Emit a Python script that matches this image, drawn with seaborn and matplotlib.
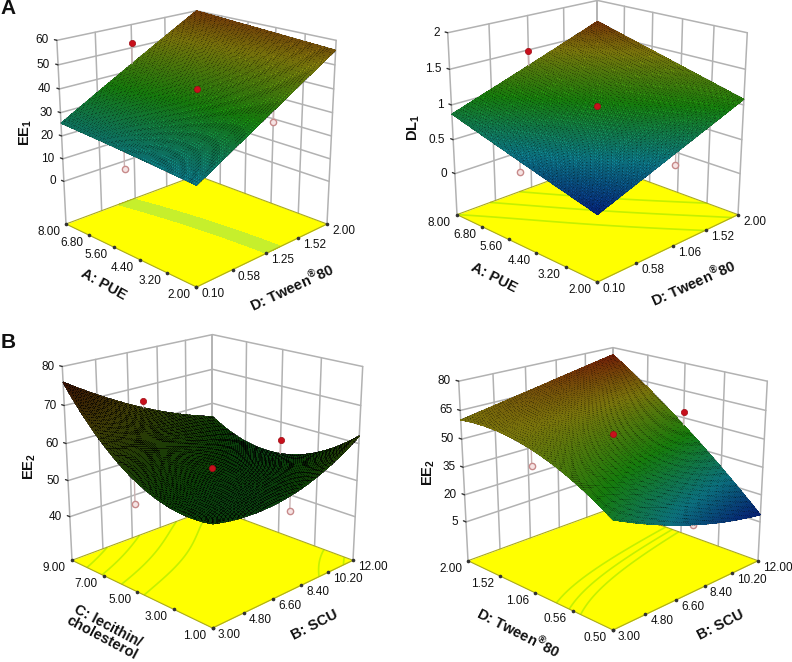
"""Four response surface panels (EE1, DL1, EE2, EE2)."""
import numpy as np
import matplotlib
matplotlib.use("Agg")
import matplotlib.pyplot as plt
import matplotlib.colors as mcolors
from mpl_toolkits.mplot3d import proj3d
import seaborn as sns

# heights: rows = left axis low..high, columns = right axis low..high.
# The mesh between them is the quadratic response surface through these nine values.
ee1_heights = [[21, 38.5, 56], [23.5, 40, 58], [25.5, 43, 60]]
dl1_heights = [[0.28, 0.68, 1.08], [0.57, 0.99, 1.38], [0.87, 1.27, 1.68]]
ee2c_heights = [[53.5, 53, 62], [57, 53.5, 51], [76, 64, 56]]
ee2d_heights = [[37, 19, 9], [57, 52, 46], [60, 68, 76]]

pue_ticks = ["2.00", "3.20", "4.40", "5.60", "6.80", "8.00"]
tween_ticks = ["0.10", "0.58", "1.25", "1.52", "2.00"]
tween_ticks2 = ["0.10", "0.58", "1.06", "1.52", "2.00"]
tween_ticks3 = ["0.50", "0.56", "1.06", "1.52", "2.00"]
scu_ticks = ["3.00", "4.80", "6.60", "8.40", "10.20", "12.00"]
lec_ticks = ["1.00", "3.00", "5.00", "7.00", "9.00"]

ee1_z = [0, 10, 20, 30, 40, 50, 60]
dl1_z = [0, 0.5, 1, 1.5, 2]
ee2c_z = [40, 50, 60, 70, 80]
ee2d_z = [5, 20, 35, 50, 65, 80]

# design points: (right axis position, left axis position, response)
ee1_red = [(0.5, 1, 52), (0.5, 0.5, 40)]
ee1_open = [(0, 0.5, 16.5), (1, 0.4, 18.5)]
dl1_red = [(0.5, 1, 1.49), (0.5, 0.5, 0.99)]
dl1_open = [(0, 0.5, 0.43), (1, 0.42, -0.2)]
ee2c_red = [(0.5, 1, 66), (1, 0.5, 55), (0.5, 0.5, 53.5)]
ee2c_open = [(0, 0.5, 51), (0.5, 0, 49)]
ee2d_red = [(1, 0.5, 53), (0.5, 0.5, 52.5)]
ee2d_open = [(0, 0.5, 49), (0.5, 0, 19)]

sns.set_theme(style="white")
plt.rcParams.update({
    "font.family": ["Liberation Sans", "DejaVu Sans"],
    "mathtext.fontset": "custom",
    "mathtext.rm": "Liberation Sans",
    "mathtext.bf": "Liberation Sans:bold",
})
CMAP = sns.blend_palette(["#05158c", "#0f8c9c", "#1c9a10", "#97920f", "#8a1208"], as_cmap=True)
GRID = "#b2b2b2"
W, H = 792, 662
TWEEN = r"D: Tween$\mathbf{^{®}}$80"

PANELS = [
    dict(heights=ee1_heights, left=pue_ticks, right=tween_ticks, zt=ee1_z, floor=-19.4,
         vmin=6, vmax=66, box=1.02, L=(66, 226), R=(327, 225), F=(197, 287),
         red=ee1_red, open=ee1_open, band=[38.5, 42.5], lines=None, mesh=70, lw=0.3, ealpha=0.22,
         xl="A: PUE", xlp=(104, 285), xr=TWEEN, xrp=(292, 287), zl=r"$\mathbf{EE_{1}}$", zlp=(26, 132), rl=-29, rr=25),
    dict(heights=dl1_heights, left=pue_ticks, right=tween_ticks2, zt=dl1_z, floor=-0.62,
         vmin=0.2, vmax=1.8, box=0.94, L=(457, 218), R=(738, 217), F=(597, 282),
         red=dl1_red, open=dl1_open, band=None, lines=[0.87, 1.04, 1.2], mesh=75, lw=0.3, ealpha=0.2,
         xl="A: PUE", xlp=(494, 278), xr=TWEEN, xrp=(693, 283), zl=r"$\mathbf{DL_{1}}$", zlp=(414, 127), rl=-27, rr=24),
    dict(heights=ee2c_heights, left=lec_ticks, right=scu_ticks, zt=ee2c_z, floor=27.6,
         vmin=29, vmax=78, box=1.0, L=(72, 563), R=(353, 563), F=(213, 628),
         red=ee2c_red, open=ee2c_open, band=None, lines=[56, 60, 65, 70], mesh=75, lw=0.4, ealpha=0.6,
         xl="C: lecithin/\ncholesterol", xlp=(105, 632), xr="B: SCU", xrp=(315, 625), zl=r"$\mathbf{EE_{2}}$", zlp=(30, 467), rl=-28, rr=27),
    dict(heights=ee2d_heights, left=tween_ticks3, right=scu_ticks, zt=ee2d_z, floor=-17,
         vmin=6, vmax=78, box=0.9, L=(468, 567), R=(758, 567), F=(613, 630),
         red=ee2d_red, open=ee2d_open, band=None, lines=[47, 50, 53], mesh=75, lw=0.3, ealpha=0.2,
         xl=TWEEN, xlp=(518, 632), xr="B: SCU", xrp=(721, 625), zl=r"$\mathbf{EE_{2}}$", zlp=(429, 473), rl=-27, rr=27),
]


def basis(t):
    t = np.asarray(t, dtype=float)
    return np.array([2 * (t - 0.5) * (t - 1), -4 * t * (t - 1), 2 * t * (t - 0.5)])


def height(grid, u, v):
    return basis(v).T @ np.array(grid, dtype=float) @ basis(u)


def to_px(ax, x, y, z):
    X, Y, _ = proj3d.proj_transform(x, y, z, ax.get_proj())
    return ax.transData.transform((X, Y))


def fit_axes(ax, p):
    # scale and shift the square axes so that the floor corners land where they should
    for _ in range(4):
        ax.apply_aspect()
        l = to_px(ax, 0, 1, p["floor"])
        r = to_px(ax, 1, 0, p["floor"])
        f = to_px(ax, 0, 0, p["floor"])
        pos = ax.get_position()
        s = (p["R"][0] - p["L"][0]) / (r[0] - l[0])
        cx = (l[0] + r[0]) / 2 / W
        cy = f[1] / H
        tx = (p["L"][0] + p["R"][0]) / 2 / W
        ty = (H - p["F"][1]) / H
        x0 = tx - (cx - pos.x0) * s
        y0 = ty - (cy - pos.y0) * s
        ax.set_position([x0, y0, pos.width * s, pos.height * s])


fig = plt.figure(figsize=(W / 100, H / 100), dpi=100)

for p in PANELS:
    ax = fig.add_axes([0.1, 0.1, 0.5, 0.5 * W / H], projection="3d", computed_zorder=False)
    ax.set_axis_off()
    ax.patch.set_visible(False)
    ax.set_proj_type("persp", focal_length=0.33)
    ax.view_init(elev=19.5, azim=-135)
    ax.set_box_aspect((1, 1, p["box"]), zoom=0.6)
    lims = dict(x=(0, 1), y=(0, 1), z=(p["floor"], p["zt"][-1]))
    ztop = p["zt"][-1]
    fl = p["floor"]

    n_left, n_right = len(p["left"]), len(p["right"])
    left_pos = np.linspace(0, 1, n_left)
    right_pos = np.linspace(0, 1, n_right)

    # back walls
    for u in right_pos:
        ax.plot([u, u], [1, 1], [fl, ztop], color=GRID, lw=1.1, zorder=1)
    for v in left_pos:
        ax.plot([1, 1], [v, v], [fl, ztop], color=GRID, lw=1.1, zorder=1)
    for z in list(p["zt"]):
        ax.plot([0, 1, 1], [1, 1, 0], [z, z, z], color=GRID, lw=1.1, zorder=1)
        ax.plot([0, 0], [1, 1.02], [z, z], color="#333333", lw=1, zorder=1)

    # floor with the contour traces
    ax.plot_surface(np.array([[0, 1], [0, 1]]), np.array([[0, 0], [1, 1]]), np.full((2, 2), fl),
                    color="#ffff00", shade=False, linewidth=0, zorder=2)
    us = np.linspace(0, 1, p["mesh"])
    X, Y = np.meshgrid(us, us)
    Z = height(p["heights"], us, us)
    if p["band"]:
        ax.contourf(X, Y, Z, levels=p["band"], zdir="z", offset=fl, colors=["#c6ef2c"], zorder=3)
    if p["lines"]:
        ax.contour(X, Y, Z, levels=p["lines"], zdir="z", offset=fl, colors=["#c4f000"], linewidths=1.2, zorder=3)
    ax.plot([0, 1, 1, 0, 0], [0, 0, 1, 1, 0], [fl] * 5, color="#a9a920", lw=0.8, zorder=3)

    # design points under the surface
    for u, v, z in p["open"]:
        s = float(height(p["heights"], np.array([u]), np.array([v]))[0, 0])
        ax.plot([u, u], [v, v], [z, s], color="#c9b4b4", lw=1, zorder=4)
        ax.plot([u], [v], [z], "o", ms=4.5, mfc="#f6e4e4", mec="#c78a8a", mew=1, zorder=4)

    norm = mcolors.Normalize(p["vmin"], p["vmax"])
    surf = ax.plot_surface(X, Y, Z, facecolors=CMAP(norm(Z)), rstride=1, cstride=1, shade=False,
                           linewidth=p["lw"], antialiased=False, zorder=5)
    surf.set_edgecolor((0, 0, 0, p["ealpha"]))

    for u, v, z in p["red"]:
        s = float(height(p["heights"], np.array([u]), np.array([v]))[0, 0])
        ax.plot([u, u], [v, v], [s, z], color="#c9b4b4", lw=1, zorder=6)
        ax.plot([u], [v], [z], "o", ms=4.5, mfc="#c8101c", mec="#a00c14", mew=0.5, zorder=7)

    ax.set_xlim(*lims["x"])
    ax.set_ylim(*lims["y"])
    ax.set_zlim(*lims["z"])
    fit_axes(ax, p)

    def label(x, y, z, s, dx, dy, ha):
        X2, Y2, _ = proj3d.proj_transform(x, y, z, ax.get_proj())
        ax.annotate(s, (X2, Y2), xytext=(dx, dy), textcoords="offset pixels", ha=ha, va="center",
                    fontsize=8.5, color="#111111", annotation_clip=False)

    for v, s in zip(left_pos, p["left"]):
        ax.plot([0], [v], [fl], "o", ms=1.6, color="#333333", zorder=3)
        label(0, v, fl, s, -6, -8, "right")
    for u, s in zip(right_pos, p["right"]):
        ax.plot([u], [0], [fl], "o", ms=1.6, color="#333333", zorder=3)
        label(u, 0, fl, s, 5, -7, "left")
    for z in p["zt"]:
        label(0, 1, z, f"{z:g}", -8, 0, "right")

    kw = dict(ha="center", va="center", fontsize=10.5, fontweight="bold", color="#111111", rotation_mode="anchor")
    fig.text(p["xlp"][0] / W, 1 - p["xlp"][1] / H, p["xl"], rotation=p["rl"], linespacing=1.0, **kw)
    fig.text(p["xrp"][0] / W, 1 - p["xrp"][1] / H, p["xr"], rotation=p["rr"], **kw)
    fig.text(p["zlp"][0] / W, 1 - p["zlp"][1] / H, p["zl"], rotation=90, **kw)

fig.text(8 / W, 1 - 8 / H, "A", fontsize=15, fontweight="bold", ha="center", va="center", color="#111111")
fig.text(8 / W, 1 - 342 / H, "B", fontsize=15, fontweight="bold", ha="center", va="center", color="#111111")

fig.savefig("out.png", dpi=100)
plt.close(fig)
